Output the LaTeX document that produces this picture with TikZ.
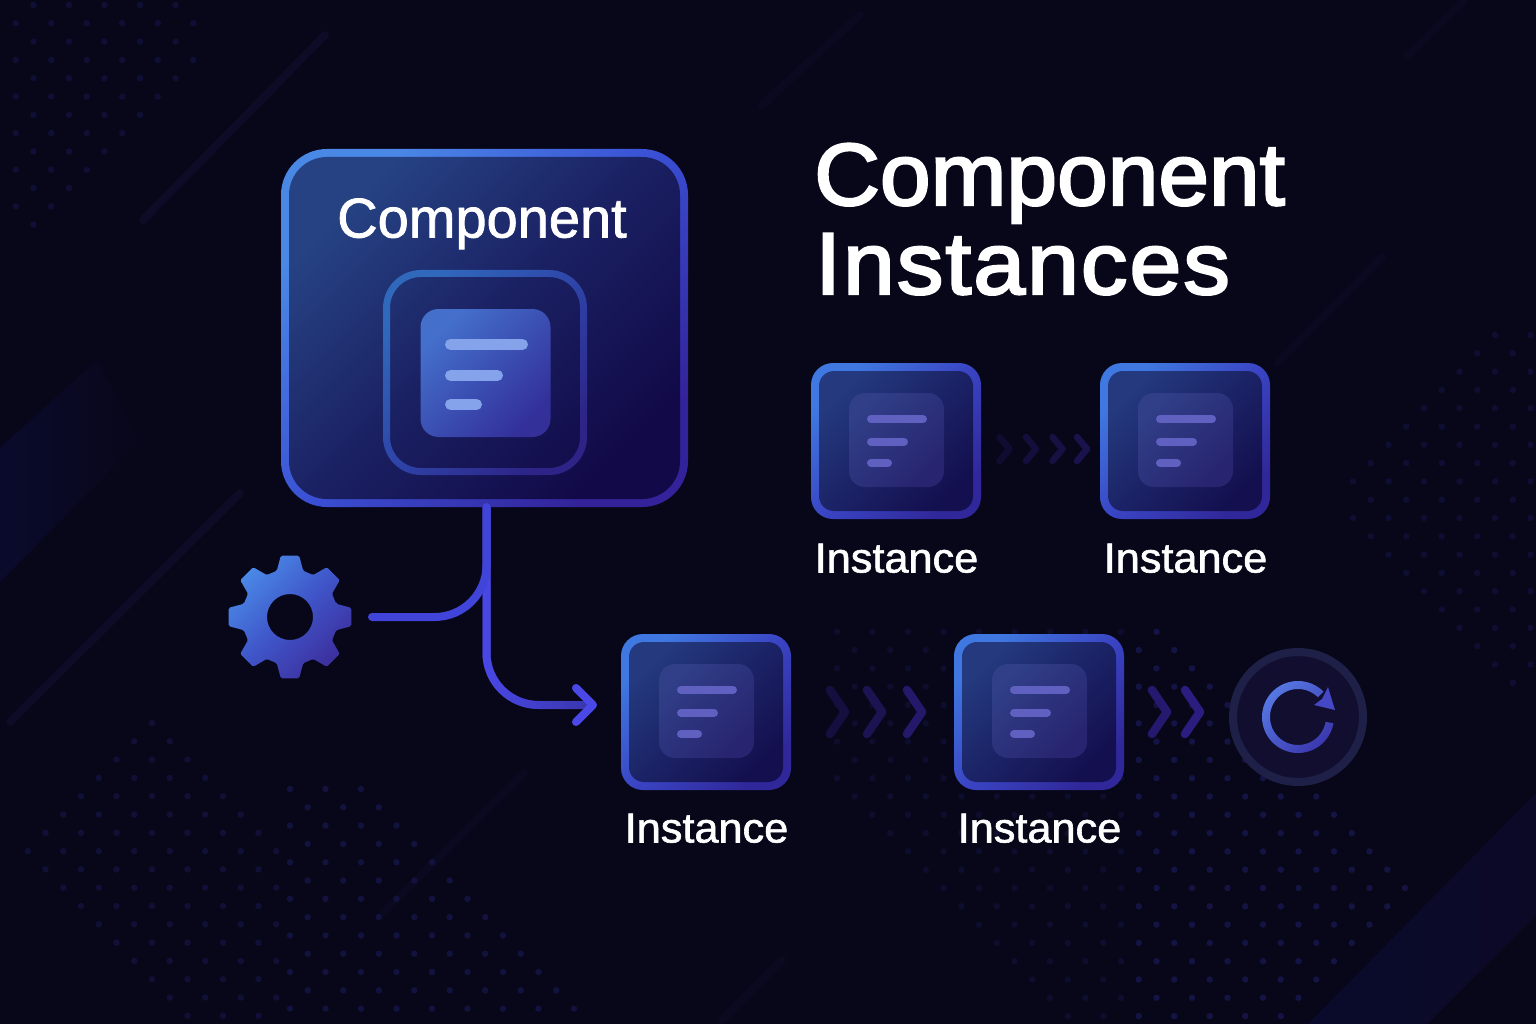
\documentclass[tikz,border=0pt]{standalone}
\usepackage{fontspec}
\setmainfont[FakeBold=1.4]{Liberation Sans}
\newfontfamily\titleFont[FakeBold=2.6]{Liberation Sans}
\usetikzlibrary{arrows.meta,fadings}
\definecolor{bgDark}{HTML}{08071A}
\definecolor{dotBlue}{HTML}{1C1E66}
\definecolor{streakDark}{HTML}{0D0B25}
\definecolor{bandBlue}{HTML}{0A0B2C}
\definecolor{bandEnd}{HTML}{0B0926}
\definecolor{edgeBright}{HTML}{4A88E6}
\definecolor{edgeMid}{HTML}{3A4FD4}
\definecolor{edgeDeep}{HTML}{33239A}
\definecolor{fillBright}{HTML}{264283}
\definecolor{fillMid}{HTML}{1A2062}
\definecolor{fillDeep}{HTML}{120A48}
\definecolor{ringBright}{HTML}{3068BC}
\definecolor{ringMid}{HTML}{2E44A8}
\definecolor{ringDeep}{HTML}{2E2488}
\definecolor{instEdgeBright}{HTML}{3F78E0}
\definecolor{instEdgeMid}{HTML}{3A45C4}
\definecolor{instEdgeDeep}{HTML}{30289A}
\definecolor{instFillBright}{HTML}{24397E}
\definecolor{instFillMid}{HTML}{1B2366}
\definecolor{instFillDeep}{HTML}{14104F}
\definecolor{instDocBright}{HTML}{303F88}
\definecolor{instDocDeep}{HTML}{28246F}
\definecolor{compDocBright}{HTML}{4470CC}
\definecolor{compDocDeep}{HTML}{33309A}
\definecolor{instBarCol}{HTML}{5F60C0}
\definecolor{compBarCol}{HTML}{84A3EA}
\definecolor{restartRing}{HTML}{1F2048}
\definecolor{restartFill}{HTML}{110E30}
\definecolor{restartBright}{HTML}{5677E2}
\definecolor{restartDeep}{HTML}{3B38AE}
\definecolor{restartHead}{HTML}{4448C4}
\definecolor{gearMid}{HTML}{3F55C8}
\definecolor{gearDeep}{HTML}{3D2F9E}
\definecolor{lineDark}{HTML}{3835A8}
\definecolor{lineBright}{HTML}{4044D8}
\definecolor{lineTip}{HTML}{4A48E6}
\newcommand{\dotPatch}[6]{% x0, y0, rows, columns, mix, test on \dx and \dy
	\foreach \row in {0,...,#3} \foreach \col in {0,...,#4} {
		\pgfmathsetmacro{\dx}{#1+35.5*\col+17.75*mod(\row,2)}
		\pgfmathsetmacro{\dy}{#2+18.3*\row}
		\pgfmathtruncatemacro{\keep}{#6}
		\ifnum\keep>0 \fill[dotBlue!#5!bgDark] (\dx,\dy) circle (3.2); \fi
	}
}
\tikzset{
	compEdge/.style={rounded corners=46, minimum width=407, minimum height=358, inner sep=0, top color=edgeBright, bottom color=edgeDeep, middle color=edgeMid, shading angle=45},
	compFill/.style={rounded corners=38, minimum width=391, minimum height=342, inner sep=0, top color=fillBright, bottom color=fillDeep, middle color=fillMid, shading angle=45},
	instEdge/.style={rounded corners=22, minimum width=170, minimum height=156, inner sep=0, top color=instEdgeBright, bottom color=instEdgeDeep, middle color=instEdgeMid, shading angle=45},
	instFill/.style={rounded corners=15, minimum width=154, minimum height=140, inner sep=0, top color=instFillBright, bottom color=instFillDeep, middle color=instFillMid, shading angle=45},
	instDoc/.style={rounded corners=16, minimum width=95, minimum height=94, inner sep=0, top color=instDocBright, bottom color=instDocDeep, shading angle=45},
	compDoc/.style={rounded corners=18, minimum width=130, minimum height=128, inner sep=0, top color=compDocBright, bottom color=compDocDeep, shading angle=45},
	docBar/.style={line cap=round, line width=8, color=instBarCol},
	compBar/.style={line cap=round, line width=11, color=compBarCol},
	instLabel/.style={anchor=base, text=white, font=\fontsize{42}{46}\selectfont\addfontfeature{FakeStretch=1.03}},
	compLabel/.style={anchor=base, text=white, font=\fontsize{56}{60}\selectfont},
	titleLabel/.style={anchor=base west, text=white, inner sep=0},
	connector/.style={line width=8, line cap=round, rounded corners=52},
	chevron/.style={line width=8.5, line cap=round, line join=round},
	streak/.style={line width=8, line cap=round, color=streakDark},
}
\begin{document}
\begin{tikzpicture}[x=1pt,y=-1pt]

	\useasboundingbox (0,0) rectangle (1536,1024);

	% background
	\fill[bgDark] (0,0) rectangle (1536,1024);
	\shade[left color=bandBlue, right color=bgDark] (0,448) -- (97,360) -- (140,440) -- (0,582) -- cycle;
	\shade[left color=bandBlue, right color=bandEnd] (1308,1024) -- (1536,793) -- (1536,915) -- (1427,1024) -- cycle;
	\draw[streak] (143,220) -- (325,35);
	\draw[streak] (10,722) -- (240,493);
	\draw[streak, streakDark!50!bgDark] (383,913) -- (524,773);
	\draw[streak, streakDark!60!bgDark] (1278,362) -- (1382,257);
	\draw[streak, streakDark!50!bgDark] (1407,56) -- (1463,2);
	\draw[streak, streakDark!50!bgDark] (762,105) -- (860,15);
	\draw[streak, streakDark!50!bgDark] (722,1020) -- (782,960);

	% dots
	\dotPatch{-2}{5}{12}{6}{36}{(\dx>=10) && (\dx<=195) && (\dx<=254-0.97*\dy)}
	\dotPatch{10}{723}{16}{7}{38}{(\dy>=721+1.03*abs(\dx-152)) && (\dy<=856+1.03*(\dx-27)) && (\dx<=278)}
	\dotPatch{290}{789}{12}{8}{46}{\dy>=778+1.03*(\dx-352)}
	\dotPatch{837}{631.8}{21}{16}{26}{(\dx<1130) && (\dy<=872+1.03*(\dx-916))}
	\dotPatch{837}{631.8}{21}{16}{55}{(\dx>=1130) && (\dy>=886-1.03*(1405-\dx)) && (\dy<=890+1.03*(1405-\dx)) && (\dy<=872+1.03*(\dx-916))}
	\dotPatch{1353}{335}{19}{5}{32}{(\dy>=333+1.03*(1495-\dx)) && (\dy<=522+1.03*(\dx-1350))}

	% component box
	\node[compEdge] (comp) at (484.5,328) {};
	\node[compFill] (compInner) at (comp) {};
	\node[compLabel] (compName) at (482,237.5) {Component};
	\shade[even odd rule, rounded corners=38, top color=ringBright, bottom color=ringDeep, middle color=ringMid, shading angle=45] (383,270) rectangle (587,475) [rounded corners=31] (390,277) rectangle (580,468);
	\node[compDoc] (compIcon) at (485.5,373) {};
	\draw[compBar] (450.5,344.5) -- (522.5,344.5);
	\draw[compBar] (450.5,375.5) -- (497.5,375.5);
	\draw[compBar] (450.5,404.5) -- (476.5,404.5);

	% title
	\node[titleLabel] (titleTop) at (814,205) {\titleFont\fontsize{88}{92}\selectfont\addfontfeature{FakeStretch=1.035}Component};
	\node[titleLabel] (titleBottom) at (815,294) {\titleFont\fontsize{88}{92}\selectfont\addfontfeature{FakeStretch=1.06,LetterSpace=2.2}Instances};

	% instances
	\foreach \name/\px/\py/\ly in {instA/896/441/131.5, instB/1185/441/131.5, instC/706/712/130.5, instD/1039/712/130.5} {
		\begin{scope}[shift={(\px,\py)}]
			\node[instEdge] (\name) at (0,0) {};
			\node[instFill] (\name Inner) at (0,0) {};
			\node[instDoc] (\name Icon) at (0.5,-1) {};
			\draw[docBar] (-25,-22) -- (27,-22);
			\draw[docBar] (-25,0.7) -- (8,0.7);
			\draw[docBar] (-25,22) -- (-8,22);
			\node[instLabel] (\name Label) at (0.5,\ly) {Instance};
		\end{scope}
	}

	% chevrons
	\foreach \tip/\mixCol in {1009.5/18, 1036/26, 1062.5/32, 1087/40} {
		\draw[chevron, line width=6.5, color=edgeDeep!\mixCol!bgDark] (\tip-10,437) -- (\tip,449) -- (\tip-10,461);
	}
	\foreach \tip/\mixCol in {845/30, 882/44, 922/62, 1167/66, 1200/80} {
		\draw[chevron, color=edgeDeep!\mixCol!bgDark] (\tip-15,690) -- (\tip,712) -- (\tip-15,734);
	}

	% restart
	\node[circle, draw=restartRing, line width=8, fill=restartFill, minimum size=130, inner sep=0] (restart) at (1298,717) {};
	\shade[top color=restartBright, bottom color=restartDeep, shading angle=45] plot[domain=10:315, samples=70] ({1298+36*cos(\x)},{717+36*sin(\x)}) -- plot[domain=315:10, samples=70] ({1298+28*cos(\x)},{717+28*sin(\x)}) -- cycle;
	\fill[restartHead] (1335,710) -- (1328,687) -- (1322,699) -- (1314,705) -- cycle;

	% gear
	\coordinate (gear) at (290,617);
	\shade[shift={(gear)}, even odd rule, rounded corners=1.5, top color=edgeBright, bottom color=gearDeep, middle color=gearMid, shading angle=45] (-16:48) \foreach \a in {0,45,...,315} { -- (\a-8.5:62) -- (\a+8.5:62) -- (\a+16:48) -- (\a+29:48) } -- cycle (0,0) circle (23);

	% connectors
	\coordinate (gearOut) at (372,617);
	\coordinate (instIn) at (597,705);
	\draw[connector, color=lineDark, postaction={draw, color=lineTip, path fading=east}, -{Straight Barb[round, length=17, width=34, line width=8, color=lineTip]}] ([xshift=2]comp.south) |- (instIn);
	\draw[connector, color=lineBright] ([xshift=2]comp.south) |- (gearOut);

\end{tikzpicture}
\end{document}
